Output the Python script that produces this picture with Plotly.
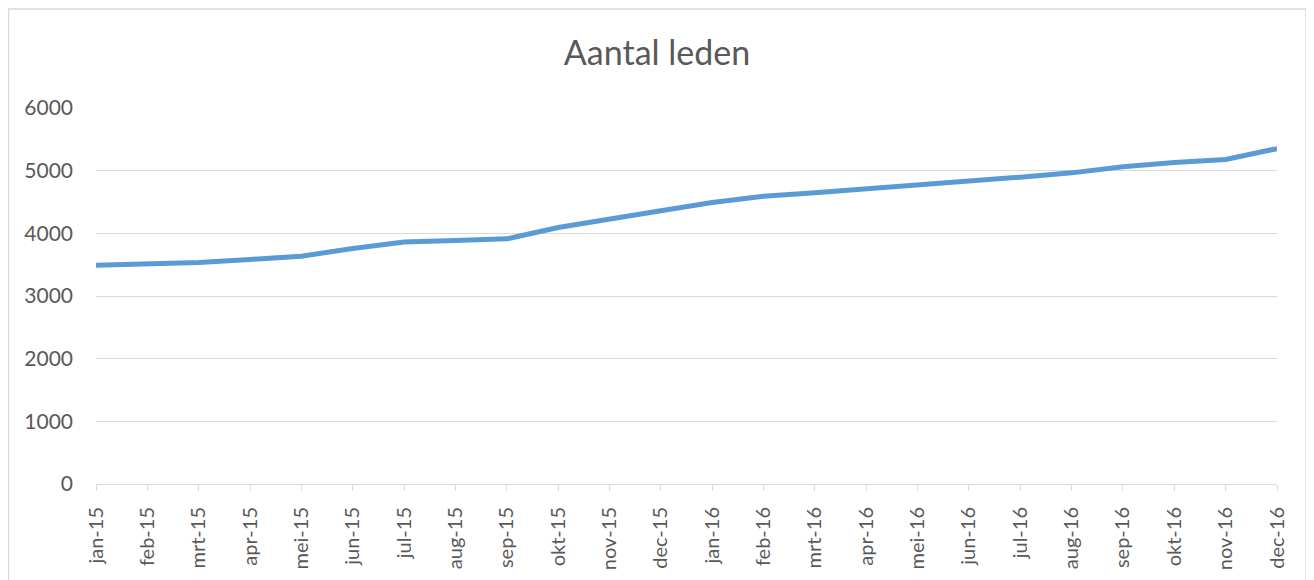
import plotly.graph_objects as go

months = ["jan-15", "feb-15", "mrt-15", "apr-15", "mei-15", "jun-15", "jul-15", "aug-15",
          "sep-15", "okt-15", "nov-15", "dec-15", "jan-16", "feb-16", "mrt-16", "apr-16",
          "mei-16", "jun-16", "jul-16", "aug-16", "sep-16", "okt-16", "nov-16", "dec-16"]
leden = [3490, 3505, 3535, 3584, 3636, 3759, 3860, 3887, 3912, 4094, 4220, 4359,
         4493, 4593, 4646, 4705, 4769, 4837, 4896, 4965, 5061, 5131, 5178, 5352]
y_ticks = [0, 1000, 2000, 3000, 4000, 5000, 6000]

# page body has an 8px margin; the figure is drawn at (8, 8)
OFF = 8
W, H = 1314 - OFF, 580 - OFF
L = 96 - OFF
T = 108 - OFF
R = W - (1277 - OFF)
B = H - (484 - OFF)
pw, ph = W - L - R, H - T - B

fig = go.Figure()
fig.add_trace(go.Scatter(
    x=months, y=leden, mode="lines",
    line=dict(color="#5B9BD5", width=5),
    showlegend=False, hoverinfo="x+y",
))

font = "Lato, 'Open Sans', sans-serif"
fig.update_layout(
    width=W, height=H,
    margin=dict(l=L, r=R, t=T, b=B, autoexpand=False),
    paper_bgcolor="white", plot_bgcolor="white",
    title=dict(text="Aantal leden", x=(657 - OFF) / W, xanchor="center", xref="container",
               y=1 - (53 - OFF) / H, yanchor="middle", yref="container",
               font=dict(family=font, size=34, color="#595959")),
    font=dict(family=font, color="#595959"),
    xaxis=dict(
        type="category", range=[0, len(months) - 1], automargin=False,
        showgrid=False, showline=True, linecolor="#d9d9d9", linewidth=1,
        ticks="outside", ticklen=6, tickcolor="#d9d9d9", tickwidth=1,
        tickangle=-90, tickfont=dict(family=font, size=20, color="#595959"),
        ticklabelstandoff=8, zeroline=False, fixedrange=True,
    ),
    yaxis=dict(
        range=[0, 6000], tickvals=y_ticks, ticktext=[str(v) for v in y_ticks],
        automargin=False,
        showgrid=True, gridcolor="#d9d9d9", gridwidth=1,
        showline=False, zeroline=False, ticks="",
        tickfont=dict(family=font, size=21, color="#595959"),
        ticklabelstandoff=22, fixedrange=True,
    ),
    shapes=[dict(type="rect", xref="paper", yref="paper",
                 x0=(0.5 - L) / pw, x1=(1306 - OFF - L) / pw,
                 y0=-0.6, y1=(H - B - (9 - OFF)) / ph,
                 line=dict(color="#d9d9d9", width=1.5), fillcolor="rgba(0,0,0,0)",
                 layer="below")],
)

fig.write_html("out.html")
